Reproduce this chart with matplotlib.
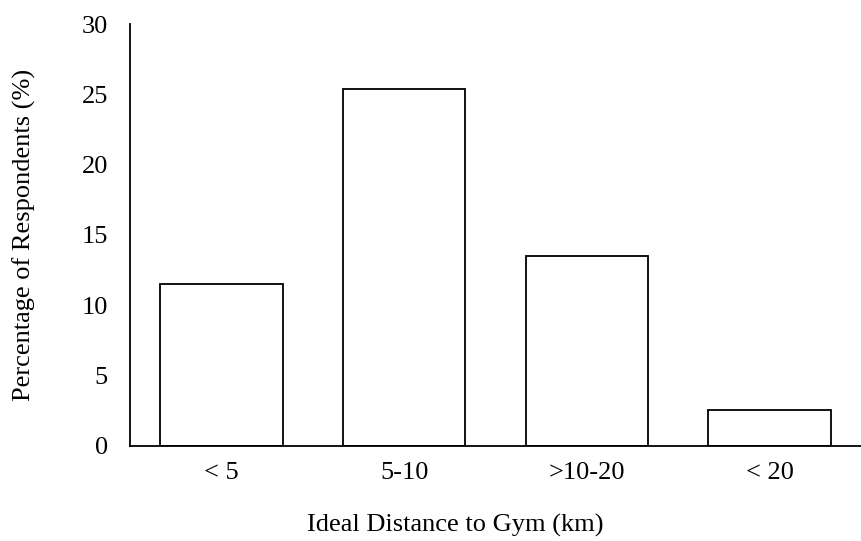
import matplotlib.pyplot as plt

plt.rcParams['font.family'] = ['Liberation Serif', 'DejaVu Serif']

categories = ['< 5', '5-10', '>10-20', '< 20']
percentages = [11.5, 25.4, 13.5, 2.5]

fig = plt.figure(figsize=(8.62, 5.41), dpi=100)
ax = fig.add_axes([0.1508, 0.1763, 0.848, 0.7793])

ax.bar(categories, percentages, width=0.67, color='white', edgecolor='black', linewidth=1.3)

ax.set_xlim(-0.5, 3.5)
ax.set_ylim(0, 30)
ax.set_yticks(range(0, 31, 5))
ax.tick_params(axis='both', length=0, labelsize=19)
ax.tick_params(axis='x', pad=12)
ax.tick_params(axis='y', pad=16)

for side in ['top', 'right']:
    ax.spines[side].set_visible(False)
for side in ['left', 'bottom']:
    ax.spines[side].set_linewidth(1.3)

ax.set_xlabel('Ideal Distance to Gym (km)', fontsize=19, va='center')
ax.xaxis.set_label_coords(0.4446, -0.19)
ax.set_ylabel('Percentage of Respondents (%)', fontsize=19, va='center')
ax.yaxis.set_label_coords(-0.145, 0.5)

fig.savefig('out.png', dpi=100)
